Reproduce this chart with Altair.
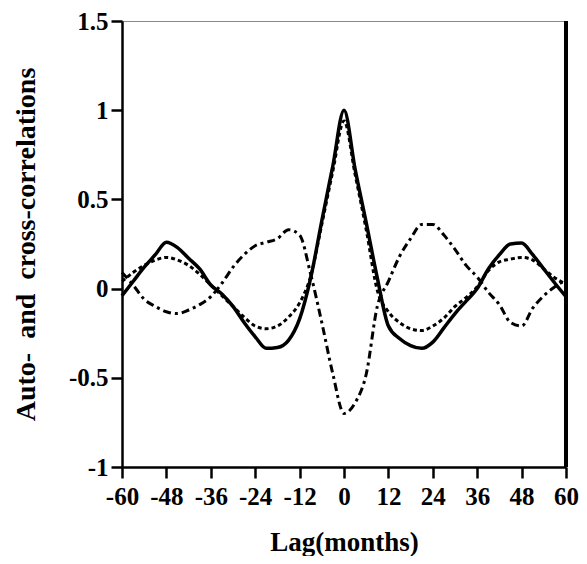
import altair as alt
import pandas as pd

# Lag in months
lags = list(range(-60, 61, 3))

# Solid line (autocorrelation)
solid_vals = [-0.04, 0.04, 0.12, 0.19, 0.26, 0.23, 0.17, 0.11, 0.02, -0.03,
              -0.10, -0.19, -0.27, -0.335, -0.33, -0.29, -0.17, 0.06, 0.38, 0.69,
              1.00,
              0.67, 0.37, 0.06, -0.21, -0.28, -0.32, -0.335, -0.30, -0.22, -0.14,
              -0.07, 0.00, 0.11, 0.19, 0.25, 0.255, 0.19, 0.11, 0.03, -0.045]

# Dotted line (autocorrelation)
dotted_vals = [0.04, 0.09, 0.13, 0.16, 0.175, 0.16, 0.13, 0.08, 0.02, -0.04,
               -0.10, -0.16, -0.21, -0.225, -0.21, -0.16, -0.08, 0.07, 0.36, 0.66,
               0.94,
               0.64, 0.33, -0.01, -0.13, -0.19, -0.225, -0.235, -0.21, -0.165, -0.10,
               -0.05, 0.01, 0.10, 0.15, 0.165, 0.175, 0.16, 0.11, 0.06, 0.025]

# Dash-dot line (cross-correlation)
dashdot_vals = [0.09, 0.02, -0.06, -0.10, -0.13, -0.14, -0.12, -0.09, -0.045, 0.03,
                0.12, 0.19, 0.24, 0.26, 0.28, 0.33, 0.30, 0.08, -0.19, -0.48,
                -0.70,
                -0.64, -0.48, -0.10, 0.04, 0.18, 0.28, 0.36, 0.36, 0.30, 0.22,
                0.13, 0.065, -0.02, -0.09, -0.19, -0.21, -0.11, -0.04, 0.01, 0.05]

x_ticks = list(range(-60, 61, 12))
y_ticks = [-1, -0.5, 0, 0.5, 1, 1.5]

FONT = "Liberation Serif"

rows = []
for name, vals in [("solid", solid_vals), ("dotted", dotted_vals), ("dashdot", dashdot_vals)]:
    for l, v in zip(lags, vals):
        rows.append({"lag": l, "value": v, "series": name})
df = pd.DataFrame(rows)

x_enc = alt.X(
    "lag:Q",
    scale=alt.Scale(domain=[-60, 60], nice=False, zero=False),
    axis=alt.Axis(values=x_ticks, title="Lag(months)", labelExpr="datum.value + ''",
                  labelPadding=6, titlePadding=20, labelFlush=False, labelOverlap=False),
)
y_enc = alt.Y(
    "value:Q",
    scale=alt.Scale(domain=[-1, 1.5], nice=False, zero=False),
    axis=alt.Axis(values=y_ticks, title="Auto-\u00a0\u00a0and\u00a0\u00a0cross-correlations",
                  labelExpr="datum.value + ''", labelPadding=3, titlePadding=28,
                  labelFlush=False, labelOverlap=False),
)

base = alt.Chart(df)

solid = base.transform_filter(alt.datum.series == "solid").mark_line(
    color="black", strokeWidth=3.5, interpolate="monotone"
).encode(x=x_enc, y=y_enc)

dotted = base.transform_filter(alt.datum.series == "dotted").mark_line(
    color="black", strokeWidth=3, strokeDash=[4, 3], interpolate="monotone"
).encode(x=x_enc, y=y_enc)

dashdot = base.transform_filter(alt.datum.series == "dashdot").mark_line(
    color="black", strokeWidth=3, strokeDash=[8, 4, 3, 4], interpolate="monotone"
).encode(x=x_enc, y=y_enc)

right_border = alt.Chart(df).mark_rule(color="black", strokeWidth=2.5).encode(
    x=alt.datum(60), y=alt.datum(-1), y2=alt.datum(1.5)
)

chart = alt.layer(dashdot, dotted, solid, right_border).properties(
    width=444,
    height=446,
    autosize=alt.AutoSizeParams(type="none"),
    padding={"left": 114, "top": 13, "right": 13, "bottom": 89},
).configure_view(
    stroke="#888888", strokeWidth=1
).configure_axis(
    domainColor="black", domainWidth=2.5, tickColor="black", tickWidth=2.5,
    tickSize=11, grid=False,
    labelFont=FONT, labelFontSize=25, labelFontWeight="bold", labelColor="black",
    titleFont=FONT, titleFontSize=27, titleFontWeight="bold", titleColor="black",
).configure_axisY(
    titleFontSize=28
)

chart.save("out.html", embed_options={"renderer": "svg", "actions": False})
